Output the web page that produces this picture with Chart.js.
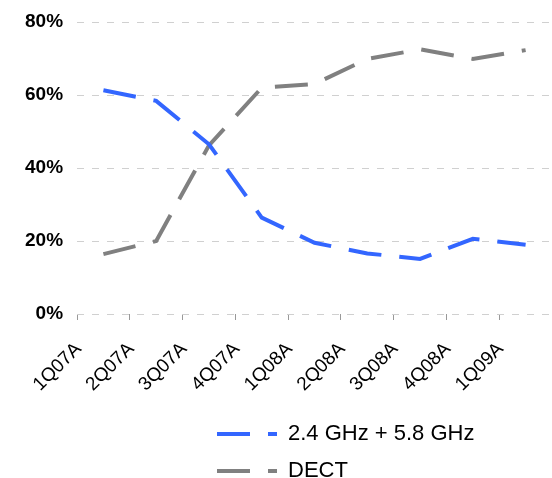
<!DOCTYPE html>
<html>
<head>
<meta charset="utf-8">
<script src="https://cdn.jsdelivr.net/npm/chart.js@4/dist/chart.umd.min.js"></script>
<style>
  html, body { margin: 0; padding: 0; background: #fff; }
  #wrap { width: 552px; height: 478px; position: relative; }
</style>
</head>
<body>
<div id="wrap"><canvas id="c" width="552" height="478"></canvas></div>
<script>
const categories = ['1Q07A', '2Q07A', '3Q07A', '4Q07A', '1Q08A', '2Q08A', '3Q08A', '4Q08A', '1Q09A'];
const ghzShare = [61.3, 58.4, 46.5, 26.4, 19.5, 16.6, 15.1, 20.6, 19.0];
const dectShare = [16.4, 20.0, 46.2, 62.0, 63.0, 69.9, 72.5, 69.9, 72.3];
const seriesNames = ['2.4 GHz + 5.8 GHz', 'DECT'];
const yTicks = [0, 20, 40, 60, 80];

const FONT = "Arial, 'Liberation Sans', sans-serif";
const DASH = [33, 18];

const legendLayout = {
  id: 'legendLayout',
  beforeLayout(chart) {
    const lg = chart.legend;
    if (lg && !lg._wrapPatched) {
      const origFit = lg.fit;
      lg.fit = function () {
        const m = this.maxWidth;
        this.maxWidth = Math.min(m, 330);
        origFit.call(this);
        this.maxWidth = m;
        this.width = m;
      };
      lg._wrapPatched = true;
    }
  },
  beforeDraw(chart) {
    const lg = chart.legend;
    if (lg) { lg.left = 202; }
  }
};

new Chart(document.getElementById('c'), {
  type: 'line',
  data: {
    labels: categories,
    datasets: [
      {
        label: seriesNames[0],
        data: ghzShare,
        borderColor: '#3366FF',
        backgroundColor: '#3366FF',
        borderWidth: 4,
        borderDash: DASH,
        borderCapStyle: 'butt',
        pointRadius: 0,
        tension: 0,
        fill: false
      },
      {
        label: seriesNames[1],
        data: dectShare,
        borderColor: '#808080',
        backgroundColor: '#808080',
        borderWidth: 4,
        borderDash: DASH,
        borderCapStyle: 'butt',
        pointRadius: 0,
        tension: 0,
        fill: false
      }
    ]
  },
  options: {
    responsive: false,
    animation: false,
    devicePixelRatio: 1,
    layout: { padding: { top: 0, right: -3, bottom: -14, left: 11 } },
    plugins: {
      tooltip: { enabled: false },
      legend: {
        position: 'bottom',
        align: 'start',
        labels: {
          usePointStyle: true,
          pointStyle: 'line',
          pointStyleWidth: 60,
          boxWidth: 60,
          boxHeight: 22,
          padding: 15,
          color: '#000',
          font: { family: FONT, size: 22 },
          generateLabels(chart) {
            const items = Chart.defaults.plugins.legend.labels.generateLabels(chart);
            items.forEach((it) => {
              const ds = chart.data.datasets[it.datasetIndex];
              it.lineDash = ds.borderDash;
              it.lineWidth = ds.borderWidth;
              it.strokeStyle = ds.borderColor;
              it.lineCap = 'butt';
            });
            return items;
          }
        }
      }
    },
    scales: {
      x: {
        type: 'category',
        offset: true,
        border: { display: false },
        grid: {
          offset: true,
          drawOnChartArea: false,
          drawTicks: true,
          tickLength: 6,
          color: '#999999',
          lineWidth: 1
        },
        ticks: {
          color: '#000',
          font: { family: FONT, size: 19 },
          minRotation: 45,
          maxRotation: 45,
          autoSkip: false,
          padding: 18,
          labelOffset: -25
        },
        afterFit(scale) {
          scale.height = 94;
          scale.paddingLeft = 0;
          scale.paddingRight = 0;
        }
      },
      y: {
        min: 0,
        max: 80,
        border: { display: false, dash: [7, 8] },
        grid: {
          drawTicks: false,
          color: '#d0d0d0',
          lineWidth: 1
        },
        ticks: {
          stepSize: 20,
          padding: 14,
          color: '#000',
          font: { family: FONT, size: 19, weight: 'bold' },
          callback: (v) => yTicks.includes(v) ? v + '%' : ''
        },
        afterFit(scale) {
          scale.paddingTop = 22;
          scale.paddingBottom = 0;
        }
      }
    }
  },
  plugins: [legendLayout]
});
</script>
</body>
</html>
